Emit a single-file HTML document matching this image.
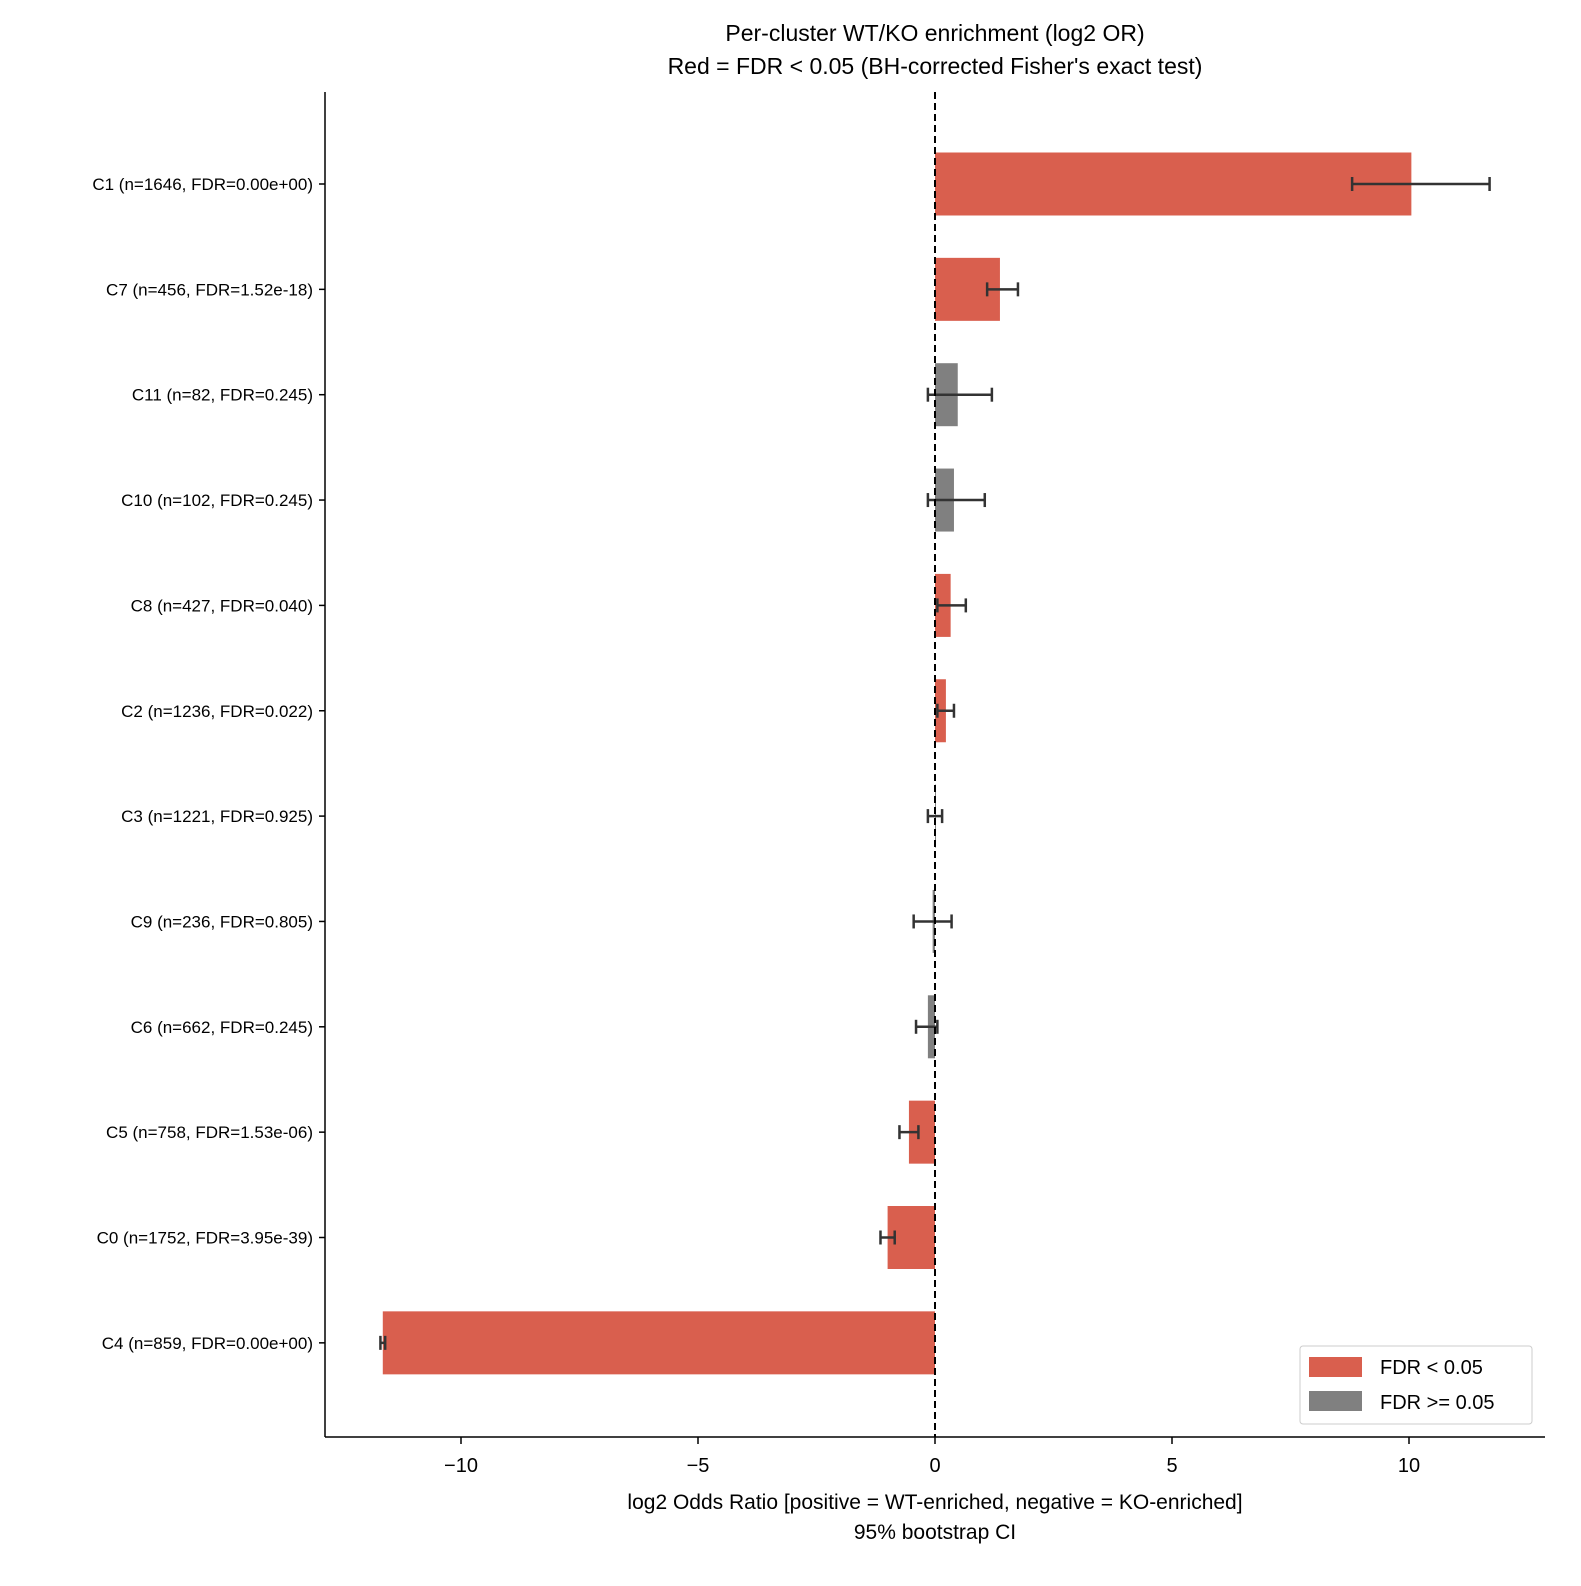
<!DOCTYPE html>
<html><head><meta charset="utf-8"><style>
body{margin:0;background:#fff;}
svg{display:block;font-family:"Liberation Sans",Arial,sans-serif;}
</style></head><body>
<svg id="chart" width="1581" height="1586" viewBox="0 0 1581 1586">
<text x="935" y="41" text-anchor="middle" font-size="23">Per-cluster WT/KO enrichment (log2 OR)</text>
<text x="935" y="74" text-anchor="middle" font-size="23">Red = FDR &lt; 0.05 (BH-corrected Fisher's exact test)</text>
<g id="bars"></g>
<g id="axes"></g>
<text x="935" y="1509" text-anchor="middle" font-size="21">log2 Odds Ratio [positive = WT-enriched, negative = KO-enriched]</text>
<text x="935" y="1539" text-anchor="middle" font-size="21">95% bootstrap CI</text>
<g>
<rect x="1300" y="1346" width="232" height="78" fill="#fff" stroke="#ccc" rx="3"/>
<rect x="1309" y="1357" width="53" height="20" fill="#d95f4e"/>
<text x="1380" y="1374" font-size="20">FDR &lt; 0.05</text>
<rect x="1309" y="1391" width="53" height="20" fill="#808080"/>
<text x="1380" y="1409" font-size="20">FDR &gt;= 0.05</text>
</g>
</svg>
<script>
const labels=["C1 (n=1646, FDR=0.00e+00)","C7 (n=456, FDR=1.52e-18)","C11 (n=82, FDR=0.245)","C10 (n=102, FDR=0.245)","C8 (n=427, FDR=0.040)","C2 (n=1236, FDR=0.022)","C3 (n=1221, FDR=0.925)","C9 (n=236, FDR=0.805)","C6 (n=662, FDR=0.245)","C5 (n=758, FDR=1.53e-06)","C0 (n=1752, FDR=3.95e-39)","C4 (n=859, FDR=0.00e+00)"];
const values=[10.05,1.37,0.48,0.4,0.33,0.23,0.0,-0.05,-0.15,-0.55,-1.0,-11.65];
const ciLow=[8.8,1.1,-0.15,-0.15,0.05,0.05,-0.15,-0.45,-0.4,-0.75,-1.15,-11.7];
const ciHigh=[11.7,1.75,1.2,1.05,0.65,0.4,0.15,0.35,0.05,-0.35,-0.85,-11.6];
const significant=[true,true,false,false,true,true,false,false,false,true,true,true];
const xTicks=[-10,-5,0,5,10];
const NS="http://www.w3.org/2000/svg";
const X=v=>935+v*47.4;
const Y=i=>184+i*105.35;
function mk(tag,attrs,parent){const e=document.createElementNS(NS,tag);for(const k in attrs)e.setAttribute(k,attrs[k]);parent.appendChild(e);return e;}
const bars=document.getElementById('bars'),axes=document.getElementById('axes');
values.forEach((v,i)=>{
 const x0=Math.min(X(0),X(v)),w=Math.abs(X(v)-X(0));
 const r=mk('rect',{x:x0,y:Y(i)-31.5,width:Math.max(w,1),height:63,fill:significant[i]?'#d95f4e':'#808080'},bars);
 
 
 const g=mk('g',{stroke:'#333','stroke-width':2.5},bars);
 
 
 mk('line',{x1:X(ciLow[i]),x2:X(ciHigh[i]),y1:Y(i),y2:Y(i)},g);
 mk('line',{x1:X(ciLow[i]),x2:X(ciLow[i]),y1:Y(i)-7,y2:Y(i)+7},g);
 mk('line',{x1:X(ciHigh[i]),x2:X(ciHigh[i]),y1:Y(i)-7,y2:Y(i)+7},g);
 mk('line',{x1:319,x2:325,y1:Y(i),y2:Y(i),stroke:'#000','stroke-width':1.5},axes);
 const t=mk('text',{x:313,y:Y(i)+6,'text-anchor':'end','font-size':17},axes);
 t.textContent=labels[i];
 
 
});
const zl=mk('line',{x1:X(0),x2:X(0),y1:92,y2:1437,stroke:'#000','stroke-width':2,'stroke-dasharray':'7,4'},axes);


mk('line',{x1:325,x2:325,y1:92,y2:1437,stroke:'#000','stroke-width':1.5},axes);
mk('line',{x1:325,x2:1545,y1:1437,y2:1437,stroke:'#000','stroke-width':1.5},axes);
xTicks.forEach(t=>{
 mk('line',{x1:X(t),x2:X(t),y1:1437,y2:1444,stroke:'#000','stroke-width':1.5},axes);
 const e=mk('text',{x:X(t),y:1472,'text-anchor':'middle','font-size':20},axes);
 e.textContent=t<0?'\u2212'+(-t):String(t);
 
 
});
</script>
</body></html>
